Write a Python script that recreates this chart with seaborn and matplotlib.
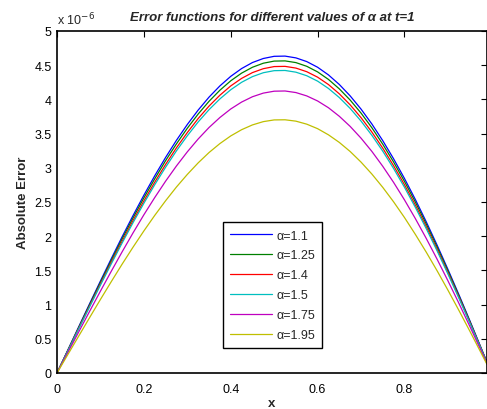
import numpy as np
import pandas as pd
import seaborn as sns
import matplotlib
matplotlib.use("Agg")
import matplotlib.pyplot as plt
from matplotlib.ticker import FixedLocator

# spatial grid
x = [0.000, 0.025, 0.050, 0.075, 0.100, 0.125, 0.150, 0.175, 0.200, 0.225,
     0.250, 0.275, 0.300, 0.325, 0.350, 0.375, 0.400, 0.425, 0.450, 0.475,
     0.500, 0.525, 0.550, 0.575, 0.600, 0.625, 0.650, 0.675, 0.700, 0.725,
     0.750, 0.775, 0.800, 0.825, 0.850, 0.875, 0.900, 0.925, 0.950, 0.975,
     0.990]

# absolute error at t=1, in units of 1e-6
err_a110 = [0, 0.337, 0.676, 1.012, 1.345, 1.672, 1.992, 2.301, 2.599, 2.883,
            3.151, 3.402, 3.633, 3.844, 4.033, 4.197, 4.337, 4.451, 4.539, 4.598,
            4.630, 4.633, 4.607, 4.553, 4.470, 4.358, 4.218, 4.051, 3.858, 3.640,
            3.397, 3.131, 2.844, 2.537, 2.212, 1.871, 1.516, 1.150, 0.773, 0.389,
            0.156]
err_a125 = [0, 0.332, 0.665, 0.997, 1.325, 1.647, 1.962, 2.266, 2.560, 2.839,
            3.104, 3.350, 3.578, 3.786, 3.972, 4.134, 4.272, 4.384, 4.470, 4.529,
            4.560, 4.563, 4.538, 4.484, 4.402, 4.292, 4.154, 3.990, 3.800, 3.585,
            3.345, 3.084, 2.801, 2.499, 2.179, 1.843, 1.493, 1.132, 0.762, 0.383,
            0.154]
err_a140 = [0, 0.326, 0.654, 0.979, 1.301, 1.618, 1.927, 2.227, 2.515, 2.789,
            3.049, 3.292, 3.515, 3.720, 3.902, 4.061, 4.197, 4.307, 4.392, 4.449,
            4.480, 4.483, 4.458, 4.405, 4.325, 4.217, 4.081, 3.920, 3.733, 3.522,
            3.287, 3.030, 2.752, 2.455, 2.141, 1.811, 1.467, 1.113, 0.748, 0.377,
            0.151]
err_a150 = [0, 0.322, 0.645, 0.966, 1.284, 1.596, 1.901, 2.197, 2.481, 2.752,
            3.008, 3.248, 3.468, 3.670, 3.850, 4.007, 4.141, 4.250, 4.333, 4.390,
            4.420, 4.423, 4.398, 4.346, 4.267, 4.160, 4.027, 3.868, 3.683, 3.474,
            3.243, 2.989, 2.715, 2.422, 2.112, 1.787, 1.448, 1.098, 0.738, 0.372,
            0.149]
err_a175 = [0, 0.300, 0.601, 0.901, 1.197, 1.488, 1.772, 2.048, 2.313, 2.565,
            2.804, 3.027, 3.233, 3.421, 3.589, 3.735, 3.860, 3.961, 4.039, 4.092,
            4.120, 4.123, 4.100, 4.051, 3.977, 3.878, 3.753, 3.605, 3.433, 3.239,
            3.022, 2.786, 2.531, 2.258, 1.969, 1.665, 1.349, 1.023, 0.688, 0.346,
            0.139]
err_a195 = [0, 0.270, 0.540, 0.809, 1.075, 1.336, 1.592, 1.839, 2.077, 2.304,
            2.518, 2.719, 2.903, 3.072, 3.223, 3.354, 3.466, 3.557, 3.627, 3.675,
            3.700, 3.702, 3.682, 3.638, 3.572, 3.482, 3.371, 3.238, 3.083, 2.908,
            2.714, 2.502, 2.273, 2.027, 1.768, 1.496, 1.212, 0.919, 0.618, 0.311,
            0.125]

series_labels = ["α=1.1", "α=1.25", "α=1.4", "α=1.5", "α=1.75", "α=1.95"]
series_values = [err_a110, err_a125, err_a140, err_a150, err_a175, err_a195]
scale = 1e-6

x_ticks = [0, 0.2, 0.4, 0.6, 0.8]
x_tick_labels = ["0", "0.2", "0.4", "0.6", "0.8"]
y_ticks = [0, 0.5, 1, 1.5, 2, 2.5, 3, 3.5, 4, 4.5, 5]
y_tick_labels = ["0", "0.5", "1", "1.5", "2", "2.5", "3", "3.5", "4", "4.5", "5"]

colors = [(0, 0, 1), (0, 0.5, 0), (1, 0, 0), (0, 0.75, 0.75),
          (0.75, 0, 0.75), (0.75, 0.75, 0)]

frames = []
for lab, vals in zip(series_labels, series_values):
    frames.append(pd.DataFrame({"x": x, "err": np.array(vals) * scale, "alpha": lab}))
df = pd.concat(frames, ignore_index=True)

sns.set_style("white")
plt.rcParams["font.family"] = ["Liberation Sans", "DejaVu Sans"]

fig = plt.figure(figsize=(4.87, 4.10), dpi=100)
ax = fig.add_axes([57 / 487, 36 / 410, 430 / 487, 342 / 410])

sns.lineplot(data=df, x="x", y="err", hue="alpha", hue_order=series_labels,
             palette=colors, linewidth=0.9, ax=ax, legend=True)

ax.set_xlim(0, 0.99)
ax.set_ylim(0, 5 * scale)

ax.xaxis.set_major_locator(FixedLocator(x_ticks))
ax.set_xticklabels(x_tick_labels)
ax.yaxis.set_major_locator(FixedLocator([v * scale for v in y_ticks]))
ax.set_yticklabels(y_tick_labels)

ax.tick_params(direction="in", length=4, width=0.8, top=True, right=True,
               labelsize=9, colors="black")
ax.tick_params(axis="x", pad=7)
ax.tick_params(axis="y", pad=4)
for s in ax.spines.values():
    s.set_visible(True)
    s.set_color("black")
    s.set_linewidth(1.2)

ax.text(0.0, 1.012, "x 10$^{-6}$", transform=ax.transAxes, fontsize=9,
        ha="left", va="bottom")

ax.set_title("Error functions for different values of α at t=1",
             fontsize=9.5, fontweight="bold", fontstyle="italic", pad=8)
ax.set_xlabel("x", fontsize=9.5, fontweight="bold", labelpad=2)
ax.set_ylabel("Absolute Error", fontsize=9.5, fontweight="bold", labelpad=4)

handles, labels = ax.get_legend_handles_labels()
leg = ax.legend(handles, labels, loc="upper left", bbox_to_anchor=(0.386, 0.4415),
                fontsize=9, frameon=True, fancybox=False, framealpha=1,
                edgecolor="black", borderpad=0.6, labelspacing=0.63,
                handlelength=3.3, handletextpad=0.35, borderaxespad=0)
leg.get_frame().set_linewidth(1.0)

fig.savefig("out.png", dpi=100)
